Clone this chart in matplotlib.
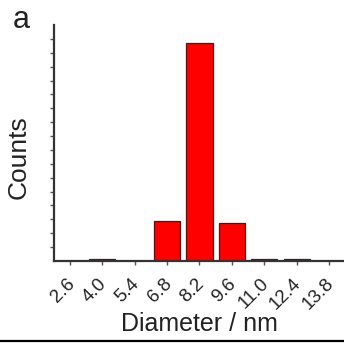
import matplotlib
matplotlib.use("Agg")
import matplotlib.pyplot as plt
from matplotlib.lines import Line2D
from matplotlib.transforms import ScaledTranslation

# Size histogram of the particles
bin_centers = [4.0, 6.8, 8.2, 9.6, 11.0, 12.4]
counts = [0.12, 2.9, 15.7, 2.75, 0.12, 0.12]
tick_values = [2.6, 4.0, 5.4, 6.8, 8.2, 9.6, 11.0, 12.4, 13.8]
tick_labels = ["2.6", "4.0", "5.4", "6.8", "8.2", "9.6", "11.0", "12.4", "13.8"]
y_ticks = list(range(1, 17))

plt.rcParams["font.family"] = ["Liberation Sans", "DejaVu Sans"]

fig = plt.figure(figsize=(3.44, 3.43), dpi=100)
ax = fig.add_axes([54 / 344, 1 - 261 / 343, 290 / 344, 236 / 343])

ax.bar(bin_centers, counts, width=1.13, color="#ff0000",
       edgecolor="#5a1010", linewidth=0.9)

ax.set_xlim(1.91, 14.45)
ax.set_ylim(0, 17.0)

for side in ("top", "right"):
    ax.spines[side].set_visible(False)
for side in ("left", "bottom"):
    ax.spines[side].set_linewidth(1.6)
    ax.spines[side].set_color("#333333")

ax.set_xticks(tick_values)
ax.set_xticklabels(tick_labels, rotation=45, ha="right", va="top",
                   rotation_mode="anchor", fontsize=13.5, color="#222222")
ax.tick_params(axis="x", direction="out", length=3, width=1, color="#555555", pad=5)
shift = ScaledTranslation(-4 / 100, -3 / 100, fig.dpi_scale_trans)
for lbl in ax.get_xticklabels():
    lbl.set_transform(lbl.get_transform() + shift)

ax.set_yticks(y_ticks)
ax.set_yticklabels([])
ax.tick_params(axis="y", direction="out", length=3, width=1, color="#555555")

ax.set_xlabel("Diameter / nm", fontsize=18, color="#222222")
ax.xaxis.set_label_coords(0.5, -0.215)
ax.set_ylabel("Counts", fontsize=19, color="#222222")
ax.yaxis.set_label_coords(-0.08, 0.44)

fig.text(13 / 344, 1 - 28 / 343, "a", fontsize=22, color="#222222", va="baseline")

# separator rule under the panel
fig.add_artist(Line2D([0, 1], [1 - 341 / 343] * 2, transform=fig.transFigure,
                      color="black", linewidth=1.6))

fig.savefig("out.png", dpi=100)
